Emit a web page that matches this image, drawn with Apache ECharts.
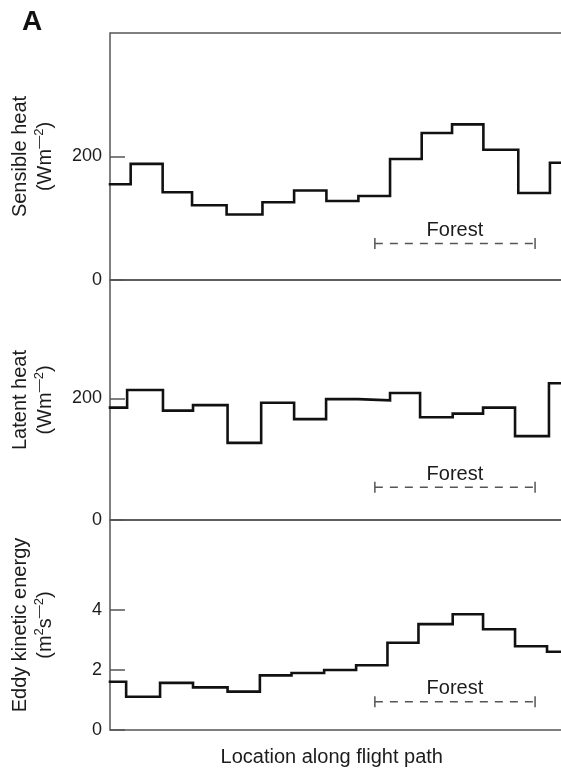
<!DOCTYPE html>
<html>
<head>
<meta charset="utf-8">
<script src="https://cdn.jsdelivr.net/npm/echarts@6/dist/echarts.min.js"></script>
<style>
  html, body { margin: 0; padding: 0; background: #fff; }
  #chart { width: 561px; height: 768px; }
</style>
</head>
<body>
<div id="chart"></div>
<script>
// ---- Data ----
// Segment edges along the flight path (arbitrary location units) and step values
const sensibleEdges  = [0, 0.64, 1.63, 2.54, 3.61, 4.72, 5.70, 6.70, 7.69, 8.67, 9.65, 10.59, 11.56, 12.64, 13.62, 15];
const sensibleValues = [155, 188, 142, 121, 106, 126, 145, 128, 136, 196, 238, 252, 211, 141, 190];

const latentEdges  = [0, 0.53, 1.64, 2.57, 3.64, 4.68, 5.70, 6.69, 7.68, 8.67, 9.60, 10.61, 11.55, 12.54, 13.59, 15];
const latentValues = [185, 214, 180, 189, 127, 193, 166, 199, 197, 209, 169, 175, 185, 138, 225];

const ekeEdges  = [0, 0.50, 1.55, 2.57, 3.64, 4.64, 5.62, 6.63, 7.62, 8.59, 9.55, 10.61, 11.55, 12.54, 13.53, 15];
const ekeValues = [1.61, 1.11, 1.57, 1.42, 1.28, 1.82, 1.90, 2.00, 2.16, 2.91, 3.53, 3.86, 3.36, 2.79, 2.61];

// Forest extent along the path and the height of its marker in each panel
const forestRange = [8.2, 13.16];
const forestLevels = [59, 54, 0.94];
const forestLabel = 'Forest';

// Axis ticks
const sensibleTicks = [0, 200];
const latentTicks = [0, 200];
const ekeTicks = [0, 2, 4];
const yMax = [400, 395, 7];

const panelNames = [
  'Sensible heat\n{u|(Wm}{s|—2}{u|)}',
  'Latent heat\n{u|(Wm}{s|—2}{u|)}',
  'Eddy kinetic energy\n{u|(m}{s|2}{u|s}{s|—2}{u|)}'
];
const xName = 'Location along flight path';

// ---- Build ----
const FONT = '"Liberation Sans", Arial, Helvetica, sans-serif';
const TXT = '#1c1c1c';
const GRAY = '#555';

function steps(edges, values) {
  const out = [];
  for (let i = 0; i < values.length; i++) {
    out.push([edges[i], values[i]]);
    out.push([edges[i + 1], values[i]]);
  }
  return out;
}

const gridTops = [33, 280, 520];
const gridHeights = [247, 240, 210];
const grids = gridTops.map((t, i) => ({
  left: 110, top: t, width: 484.5, height: gridHeights[i],
  containLabel: false, outerBoundsMode: 'none',
  show: true, borderColor: GRAY, borderWidth: 1.5, backgroundColor: 'transparent'
}));

const tickSets = [sensibleTicks, latentTicks, ekeTicks];

const xAxes = [0, 1, 2].map(i => ({
  type: 'value', gridIndex: i, min: 0, max: 15,
  axisLine: { show: false }, axisTick: { show: false }, axisLabel: { show: false },
  splitLine: { show: false },
  name: i === 2 ? xName : '',
  nameLocation: 'middle', nameGap: 17,
  nameTextStyle: { fontSize: 20, color: TXT, fontFamily: FONT, padding: [0, 41, 0, 0] }
}));

const yAxes = [0, 1, 2].map(i => ({
  type: 'value', gridIndex: i, min: 0, max: yMax[i],
  axisLine: { show: false },
  splitLine: { show: false },
  axisTick: { show: true, inside: true, length: 15, customValues: tickSets[i],
              lineStyle: { color: GRAY, width: 1.5 } },
  axisLabel: { customValues: tickSets[i], fontSize: 18, color: TXT, fontFamily: FONT, margin: 8 },
  name: panelNames[i],
  nameLocation: 'middle', nameRotate: 90, nameGap: 52,
  nameTextStyle: {
    fontSize: 20, color: TXT, fontFamily: FONT, lineHeight: 25,
    rich: {
      u: { fontSize: 20, fontFamily: FONT, color: TXT, lineHeight: 25 },
      s: { fontSize: 13, fontFamily: FONT, color: TXT, verticalAlign: 'top', lineHeight: 13 }
    }
  }
}));

const stepData = [steps(sensibleEdges, sensibleValues), steps(latentEdges, latentValues), steps(ekeEdges, ekeValues)];

const series = [];
for (let i = 0; i < 3; i++) {
  series.push({
    type: 'line', xAxisIndex: i, yAxisIndex: i, data: stepData[i],
    symbol: 'none', animation: false, silent: true,
    lineStyle: { color: '#111', width: 2.6, join: 'miter', cap: 'square' }
  });
  series.push({
    type: 'line', xAxisIndex: i, yAxisIndex: i,
    data: [[forestRange[0], forestLevels[i]], [forestRange[1], forestLevels[i]]],
    symbol: 'rect', symbolSize: [1.5, 11], showSymbol: true, animation: false, silent: true,
    itemStyle: { color: GRAY },
    lineStyle: { color: GRAY, width: 1.5, type: [8, 7] }
  });
  series.push({
    type: 'scatter', xAxisIndex: i, yAxisIndex: i,
    data: [[(forestRange[0] + forestRange[1]) / 2, forestLevels[i]]],
    symbolSize: 0, animation: false, silent: true,
    itemStyle: { color: TXT, opacity: 1 },
    label: { show: true, position: 'top', distance: 3, formatter: forestLabel,
             fontSize: 20, color: TXT, fontFamily: FONT, opacity: 1 }
  });
}

const chart = echarts.init(document.getElementById('chart'), null, { renderer: 'canvas' });
chart.setOption({
  backgroundColor: '#fff',
  animation: false,
  title: { text: 'A', left: 17, top: 3, textStyle: { fontSize: 28, fontWeight: 'bold', color: '#111', fontFamily: FONT } },
  grid: grids,
  xAxis: xAxes,
  yAxis: yAxes,
  series: series
});
</script>
</body>
</html>
